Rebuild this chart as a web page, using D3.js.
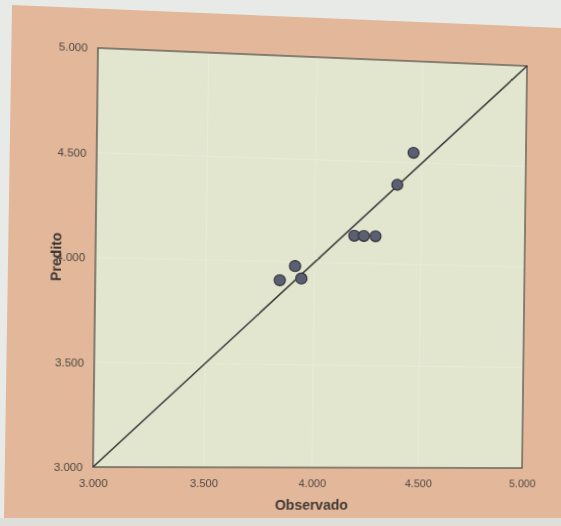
<!DOCTYPE html>
<html>
<head>
<meta charset="utf-8">
<script src="https://cdn.jsdelivr.net/npm/d3@7"></script>
<style>
  html, body { margin: 0; padding: 0; background: #e8eae7; overflow: hidden; }
  #bg { position: absolute; left: 0; top: 0; }
  #chart { position: absolute; left: 0; top: 0; transform-origin: 0 0; }
  text { font-family: "Liberation Sans", Arial, sans-serif; }
</style>
</head>
<body>
<svg id="bg" width="561" height="526"></svg>
<svg id="chart" width="561" height="526"></svg>
<script>
// ---- data (pt-BR thousands separator) ----
const observado = [3840, 3910, 3940, 4185, 4230, 4285, 4385, 4460];
const predito   = [3910, 3980, 3920, 4135, 4135, 4135, 4390, 4550];
const tickValues = [3000, 3500, 4000, 4500, 5000];
const domainMin = 3000, domainMax = 5000;
const xTitle = "Observado";
const yTitle = "Predito";

const W = 561, H = 526;
// flat layout of plot area
const L = 95, R = 525, T = 50, B = 468;

// photographic background (panel)
const bg = d3.select("#bg");
bg.append("rect").attr("width", W).attr("height", H).attr("fill", "#e8eae7");
bg.append("polygon")
  .attr("points", "12,5 561,28 561,518 4,518")
  .attr("fill", "#e3b799");
bg.append("rect").attr("x", 0).attr("y", 518).attr("width", W).attr("height", 8).attr("fill", "#dedfdb");

const svg = d3.select("#chart");
const ptBR = d3.formatLocale({decimal: ",", thousands: ".", grouping: [3], currency: ["R$", ""]});
const fmt = ptBR.format(",");

const x = d3.scaleLinear().domain([domainMin, domainMax]).range([L, R]);
const y = d3.scaleLinear().domain([domainMin, domainMax]).range([B, T]);

// plot background
svg.append("rect")
  .attr("x", x(domainMin)).attr("y", y(domainMax))
  .attr("width", x(domainMax) - x(domainMin)).attr("height", y(domainMin) - y(domainMax))
  .attr("fill", "#e3e6ce");

// faint grid
const gridVals = tickValues.slice(1, -1);
svg.append("g").selectAll("line.gx").data(gridVals).join("line")
  .attr("x1", d => x(d)).attr("x2", d => x(d))
  .attr("y1", y(domainMin)).attr("y2", y(domainMax))
  .attr("stroke", "#e8ead6").attr("stroke-width", 1);
svg.append("g").selectAll("line.gy").data(gridVals).join("line")
  .attr("y1", d => y(d)).attr("y2", d => y(d))
  .attr("x1", x(domainMin)).attr("x2", x(domainMax))
  .attr("stroke", "#e8ead6").attr("stroke-width", 1);

// border
svg.append("rect")
  .attr("x", x(domainMin)).attr("y", y(domainMax))
  .attr("width", x(domainMax) - x(domainMin)).attr("height", y(domainMin) - y(domainMax))
  .attr("fill", "none").attr("stroke", "#5e5c55").attr("stroke-width", 1.4);

// 1:1 line
svg.append("line")
  .attr("x1", x(domainMin)).attr("y1", y(domainMin))
  .attr("x2", x(domainMax)).attr("y2", y(domainMax))
  .attr("stroke", "#3a3a3a").attr("stroke-width", 1.6);

// axes
const xAxis = svg.append("g").attr("transform", `translate(0,${B})`)
  .call(d3.axisBottom(x).tickValues(tickValues).tickFormat(fmt).tickSize(0).tickPadding(12));
const yAxis = svg.append("g").attr("transform", `translate(${L},0)`)
  .call(d3.axisLeft(y).tickValues(tickValues).tickFormat(fmt).tickSize(0).tickPadding(10));
[xAxis, yAxis].forEach(g => {
  g.select(".domain").remove();
  g.selectAll("text").attr("font-size", 11).attr("fill", "#4d4843")
    .attr("font-family", "'Liberation Sans', Arial, sans-serif");
});

// points
svg.append("g").selectAll("circle").data(observado.map((o, i) => [o, predito[i]])).join("circle")
  .attr("cx", d => x(d[0])).attr("cy", d => y(d[1])).attr("r", 5.6)
  .attr("fill", "#5c5f71").attr("stroke", "#2e2f37").attr("stroke-width", 1.1);

// titles
svg.append("text")
  .attr("x", (L + R) / 2).attr("y", B + 43)
  .attr("text-anchor", "middle").attr("font-size", 14).attr("font-weight", "bold")
  .attr("fill", "#3d3733").text(xTitle);
svg.append("text")
  .attr("transform", `translate(${L - 33},${(T + B) / 2}) rotate(-90)`)
  .attr("text-anchor", "middle").attr("font-size", 14).attr("font-weight", "bold")
  .attr("fill", "#3d3733").text(yTitle);

// perspective mapping of flat plot rect to the photographed quadrilateral
const quad = [[98, 48], [527, 66], [522, 468], [93, 467]];
(function applyHomography() {
  const [p0, p1, p2, p3] = quad;
  const dx1 = p1[0] - p2[0], dx2 = p3[0] - p2[0], dx3 = p0[0] - p1[0] + p2[0] - p3[0];
  const dy1 = p1[1] - p2[1], dy2 = p3[1] - p2[1], dy3 = p0[1] - p1[1] + p2[1] - p3[1];
  const den = dx1 * dy2 - dx2 * dy1;
  const g = (dx3 * dy2 - dx2 * dy3) / den;
  const h = (dx1 * dy3 - dx3 * dy1) / den;
  const a = p1[0] - p0[0] + g * p1[0], b = p3[0] - p0[0] + h * p3[0], c = p0[0];
  const d = p1[1] - p0[1] + g * p1[1], e = p3[1] - p0[1] + h * p3[1], f = p0[1];
  const w = R - L, hh = B - T;
  const m11 = a / w, m12 = b / hh, m13 = -a * L / w - b * T / hh + c;
  const m21 = d / w, m22 = e / hh, m23 = -d * L / w - e * T / hh + f;
  const m31 = g / w, m32 = h / hh, m33 = -g * L / w - h * T / hh + 1;
  const mat = [m11, m21, 0, m31, m12, m22, 0, m32, 0, 0, 1, 0, m13, m23, 0, m33];
  document.getElementById("chart").style.transform = `matrix3d(${mat.join(",")})`;
})();
</script>
</body>
</html>
